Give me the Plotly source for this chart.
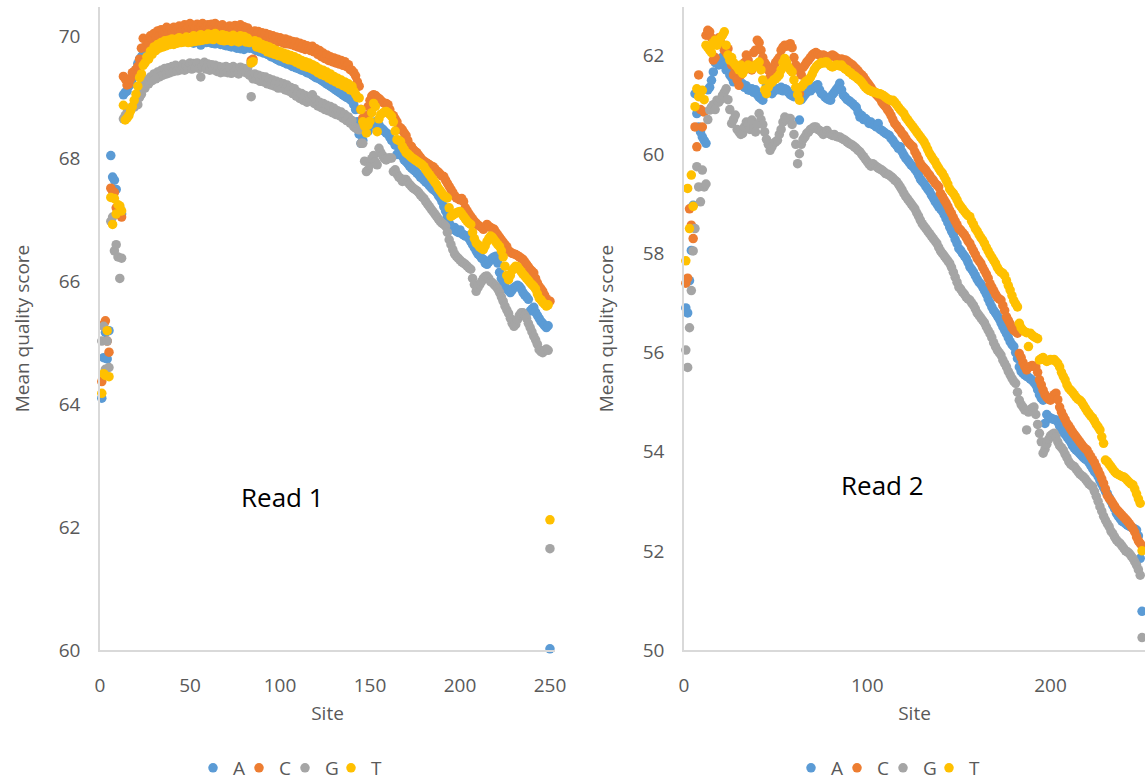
import plotly.graph_objects as go

sites = list(range(1, 251))
bases = ["A", "C", "G", "T"]
colors = {"A": "#5B9BD5", "C": "#ED7D31", "G": "#A5A5A5", "T": "#FFC000"}

# ---------------- Read 1 ----------------
read1_A = [
    64.10, 64.76, 65.17, 64.74, 65.20, 68.05, 67.70, 67.65, 67.50, 67.15,
    67.20, 67.10, 69.04, 69.08, 69.10, 69.18, 69.22, 69.30, 69.38, 69.45,
    69.55, 69.62, 69.66, 69.70, 69.72, 69.75, 69.78, 69.80, 69.80, 69.82,
    69.84, 69.85, 69.86, 69.86, 69.88, 69.87, 69.90, 69.88, 69.90, 69.91,
    69.90, 69.92, 69.91, 69.93, 69.92, 69.90, 69.93, 69.92, 69.91, 69.93,
    69.92, 69.88, 69.93, 69.91, 69.90, 69.85, 69.92, 69.90, 69.89, 69.91,
    69.90, 69.88, 69.89, 69.87, 69.90, 69.88, 69.86, 69.87, 69.85, 69.84,
    69.85, 69.83, 69.82, 69.84, 69.82, 69.80, 69.81, 69.79, 69.80, 69.78,
    69.81, 69.82, 69.80, 69.56, 69.79, 69.78, 69.76, 69.77, 69.74, 69.75,
    69.72, 69.73, 69.70, 69.69, 69.66, 69.67, 69.64, 69.62, 69.61, 69.59,
    69.59, 69.57, 69.56, 69.54, 69.55, 69.52, 69.50, 69.51, 69.48, 69.47,
    69.46, 69.44, 69.45, 69.42, 69.40, 69.41, 69.38, 69.36, 69.34, 69.32,
    69.32, 69.30, 69.28, 69.26, 69.24, 69.22, 69.20, 69.18, 69.16, 69.14,
    69.12, 69.10, 69.08, 69.06, 69.04, 69.02, 69.00, 68.99, 68.96, 68.94,
    68.88, 68.80, 68.60, 68.40, 68.25, 68.30, 68.53, 68.50, 68.45, 68.60,
    68.58, 68.55, 68.60, 68.52, 68.55, 68.50, 68.48, 68.45, 68.42, 68.40,
    68.35, 68.30, 68.28, 68.22, 68.07, 68.10, 68.06, 68.04, 67.98, 67.95,
    67.92, 67.88, 67.85, 67.82, 67.80, 67.77, 67.74, 67.70, 67.68, 67.65,
    67.62, 67.60, 67.56, 67.53, 67.50, 67.48, 67.45, 67.40, 67.36, 67.30,
    67.22, 67.15, 67.06, 66.95, 66.90, 66.85, 66.88, 66.82, 66.80, 66.84,
    66.78, 66.76, 66.74, 66.74, 66.70, 66.65, 66.60, 66.55, 66.50, 66.45,
    66.42, 66.38, 66.36, 66.30, 66.28, 66.32, 66.35, 66.38, 66.40, 66.41,
    66.30, 66.15, 66.05, 65.98, 65.92, 65.88, 65.85, 65.82, 65.86, 65.90,
    65.92, 65.94, 65.92, 65.88, 65.82, 65.78, 65.75, 65.71, 65.52, 65.55,
    65.58, 65.50, 65.45, 65.40, 65.35, 65.32, 65.28, 65.25, 65.28, 60.02,
]
read1_C = [
    64.37, 65.30, 65.36, 65.03, 64.85, 67.52, 67.47, 67.45, 67.20, 67.15,
    67.10, 67.05, 69.34, 69.30, 69.20, 69.22, 69.30, 69.40, 69.42, 69.45,
    69.50, 69.62, 69.80, 69.96, 69.82, 69.92, 69.88, 70.00, 69.94, 70.04,
    69.98, 70.08, 70.00, 70.10, 70.03, 70.07, 70.14, 70.04, 70.12, 70.06,
    70.14, 70.08, 70.12, 70.16, 70.07, 70.13, 70.18, 70.10, 70.15, 70.20,
    70.11, 70.17, 70.13, 70.19, 70.12, 70.16, 70.20, 70.10, 70.15, 70.18,
    70.12, 70.19, 70.14, 70.20, 70.10, 70.16, 70.12, 70.18, 70.08, 70.14,
    70.10, 70.16, 70.08, 70.13, 70.17, 70.07, 70.12, 70.18, 70.10, 70.15,
    70.08, 70.13, 70.04, 69.60, 69.62, 70.08, 70.02, 70.07, 69.99, 70.05,
    69.97, 70.04, 69.95, 70.02, 69.93, 70.00, 69.94, 69.98, 69.90, 69.97,
    69.92, 69.88, 69.95, 69.87, 69.93, 69.86, 69.91, 69.84, 69.90, 69.82,
    69.88, 69.80, 69.86, 69.78, 69.84, 69.80, 69.76, 69.83, 69.74, 69.79,
    69.70, 69.76, 69.66, 69.72, 69.63, 69.69, 69.60, 69.66, 69.58, 69.64,
    69.56, 69.62, 69.54, 69.60, 69.52, 69.58, 69.50, 69.53, 69.45, 69.44,
    69.40, 69.35, 69.25, 69.18, 68.80, 68.66, 68.60, 68.70, 68.85, 68.95,
    69.02, 69.04, 69.03, 69.00, 68.98, 68.95, 68.92, 68.90, 68.90, 68.88,
    68.80, 68.72, 68.70, 68.65, 68.60, 68.52, 68.50, 68.47, 68.42, 68.38,
    68.30, 68.22, 68.20, 68.15, 68.12, 68.10, 68.06, 68.02, 67.98, 67.96,
    67.94, 67.92, 67.90, 67.88, 67.87, 67.84, 67.80, 67.78, 67.75, 67.72,
    67.71, 67.65, 67.60, 67.55, 67.50, 67.45, 67.40, 67.36, 67.35, 67.33,
    67.35, 67.30, 67.20, 67.15, 67.10, 67.06, 67.02, 66.98, 66.95, 66.92,
    66.90, 66.88, 66.85, 66.88, 66.93, 66.90, 66.88, 66.86, 66.85, 66.80,
    66.76, 66.72, 66.68, 66.64, 66.60, 66.57, 66.50, 66.48, 66.46, 66.45,
    66.44, 66.42, 66.40, 66.38, 66.36, 66.32, 66.28, 66.24, 66.20, 66.17,
    66.14, 66.05, 65.98, 65.92, 65.88, 65.84, 65.78, 65.72, 65.65, 65.68,
]
read1_G = [
    65.03, 65.27, 64.57, 65.03, 64.60, 66.98, 67.05, 66.50, 66.60, 66.40,
    66.05, 66.38, 68.65, 68.70, 68.75, 68.72, 68.80, 68.85, 68.84, 68.90,
    68.88, 69.00, 69.05, 69.20, 69.15, 69.28, 69.22, 69.33, 69.27, 69.38,
    69.30, 69.41, 69.33, 69.44, 69.36, 69.47, 69.38, 69.48, 69.40, 69.50,
    69.42, 69.52, 69.43, 69.50, 69.45, 69.54, 69.44, 69.52, 69.47, 69.56,
    69.46, 69.55, 69.48, 69.56, 69.47, 69.33, 69.50, 69.57, 69.46, 69.54,
    69.44, 69.53, 69.45, 69.52, 69.42, 69.50, 69.40, 69.49, 69.41, 69.50,
    69.40, 69.48, 69.39, 69.50, 69.41, 69.47, 69.38, 69.49, 69.42, 69.47,
    69.40, 69.46, 69.36, 69.01, 69.30, 69.38, 69.29, 69.36, 69.26, 69.34,
    69.25, 69.33, 69.22, 69.30, 69.20, 69.28, 69.18, 69.26, 69.15, 69.24,
    69.15, 69.22, 69.12, 69.20, 69.10, 69.16, 69.06, 69.14, 69.02, 69.08,
    68.98, 69.06, 68.95, 69.03, 68.92, 69.00, 68.98, 69.04, 68.90, 68.96,
    68.86, 68.92, 68.83, 68.90, 68.80, 68.87, 68.78, 68.85, 68.75, 68.82,
    68.72, 68.78, 68.70, 68.76, 68.66, 68.72, 68.62, 68.68, 68.58, 68.62,
    68.52, 68.50, 68.48, 68.47, 68.25, 68.25, 67.96, 67.79, 67.82, 67.90,
    68.00, 68.05, 67.95, 67.90, 68.17, 68.10, 68.05, 68.00, 67.98, 68.01,
    68.01, 68.01, 67.79, 67.82, 67.75, 67.70, 67.68, 67.63, 67.66, 67.66,
    67.62, 67.58, 67.55, 67.52, 67.50, 67.48, 67.45, 67.41, 67.38, 67.35,
    67.30, 67.26, 67.22, 67.18, 67.14, 67.10, 67.06, 67.02, 66.98, 66.95,
    66.93, 66.90, 66.80, 66.68, 66.60, 66.52, 66.45, 66.41, 66.38, 66.35,
    66.32, 66.30, 66.28, 66.25, 66.22, 66.20, 66.05, 65.95, 65.84, 65.90,
    65.95, 66.00, 66.05, 66.08, 66.09, 66.05, 66.00, 65.98, 65.95, 65.92,
    65.88, 65.82, 65.75, 65.68, 65.60, 65.54, 65.48, 65.40, 65.32, 65.27,
    65.30, 65.38, 65.45, 65.49, 65.49, 65.45, 65.40, 65.32, 65.25, 65.18,
    65.11, 65.05, 64.98, 64.89, 64.86, 64.84, 64.88, 64.90, 64.88, 61.65,
]
read1_T = [
    64.18, 64.50, 64.47, 65.20, 64.45, 67.37, 66.93, 67.35, 67.10, 67.25,
    67.23, 67.15, 68.87, 68.63, 68.66, 68.70, 68.78, 68.85, 68.95, 69.05,
    69.18, 69.32, 69.38, 69.52, 69.56, 69.66, 69.62, 69.75, 69.70, 69.82,
    69.76, 69.86, 69.80, 69.89, 69.82, 69.92, 69.84, 69.93, 69.86, 69.95,
    69.86, 69.94, 69.88, 69.97, 69.89, 69.95, 69.90, 69.98, 69.89, 69.96,
    69.90, 70.00, 69.91, 69.98, 69.92, 70.02, 69.93, 70.00, 69.94, 70.03,
    69.95, 70.02, 69.94, 70.04, 69.96, 70.00, 69.93, 70.02, 69.92, 70.00,
    69.93, 69.99, 69.91, 70.01, 69.92, 69.98, 69.90, 70.00, 69.93, 69.99,
    69.90, 69.96, 69.89, 69.56, 69.58, 69.92, 69.82, 69.90, 69.80, 69.86,
    69.78, 69.84, 69.74, 69.82, 69.72, 69.79, 69.70, 69.76, 69.68, 69.74,
    69.66, 69.72, 69.63, 69.70, 69.61, 69.68, 69.60, 69.66, 69.57, 69.63,
    69.54, 69.60, 69.51, 69.58, 69.49, 69.56, 69.47, 69.53, 69.44, 69.50,
    69.40, 69.46, 69.37, 69.44, 69.35, 69.41, 69.31, 69.38, 69.28, 69.34,
    69.25, 69.31, 69.22, 69.28, 69.19, 69.25, 69.16, 69.22, 69.12, 69.18,
    69.10, 69.05, 69.00, 68.99, 68.80, 68.60, 68.53, 68.42, 68.55, 68.61,
    68.75, 68.90, 68.85, 68.44, 68.65, 68.72, 68.74, 68.76, 68.77, 68.75,
    68.72, 68.69, 68.60, 68.45, 68.31, 68.30, 68.28, 68.20, 68.15, 68.10,
    68.08, 68.05, 68.02, 68.00, 67.98, 67.96, 67.94, 67.92, 67.90, 67.87,
    67.82, 67.78, 67.74, 67.70, 67.66, 67.62, 67.58, 67.52, 67.48, 67.44,
    67.40, 67.38, 67.36, 67.20, 67.06, 67.08, 67.10, 67.12, 67.13, 67.14,
    67.10, 67.06, 67.02, 66.98, 66.95, 66.93, 66.80, 66.70, 66.63, 66.60,
    66.56, 66.54, 66.52, 66.58, 66.65, 66.70, 66.74, 66.72, 66.68, 66.64,
    66.60, 66.57, 66.50, 66.40, 66.25, 66.10, 66.03, 66.10, 66.18, 66.22,
    66.25, 66.24, 66.20, 66.16, 66.12, 66.09, 66.05, 66.02, 65.98, 65.95,
    65.92, 65.88, 65.80, 65.73, 65.70, 65.66, 65.63, 65.60, 65.62, 62.12,
]

# ---------------- Read 2 ----------------
read2_A = [
    56.90, 56.80, 57.45, 58.06, 58.97, 61.22, 60.82, 60.55, 60.45, 60.35,
    60.28, 60.22, 61.30, 61.35, 61.49, 61.66, 61.85, 61.90, 61.80, 61.88,
    61.96, 61.80, 61.70, 61.75, 61.60, 61.55, 61.46, 61.50, 61.55, 61.45,
    61.40, 61.42, 61.35, 61.38, 61.30, 61.29, 61.32, 61.25, 61.30, 61.20,
    61.15, 61.12, 61.09, 61.20, 61.39, 61.30, 61.25, 61.22, 61.28, 61.30,
    61.32, 61.30, 61.35, 61.28, 61.32, 61.30, 61.25, 61.20, 61.18, 61.16,
    61.20, 61.15, 60.69, 61.10, 61.15, 61.20, 61.25, 61.30, 61.28, 61.32,
    61.35, 61.38, 61.40, 61.30, 61.22, 61.20, 61.15, 61.12, 61.10, 61.09,
    61.20, 61.25, 61.30, 61.35, 61.43, 61.30, 61.19, 61.15, 61.10, 61.08,
    61.05, 61.02, 60.98, 60.95, 60.85, 60.75, 60.78, 60.70, 60.72, 60.68,
    60.62, 60.65, 60.60, 60.58, 60.55, 60.62, 60.50, 60.48, 60.45, 60.42,
    60.40, 60.38, 60.32, 60.28, 60.22, 60.18, 60.12, 60.15, 60.05, 59.98,
    59.92, 59.88, 59.83, 59.78, 59.75, 59.70, 59.65, 59.58, 59.50, 59.45,
    59.41, 59.35, 59.30, 59.25, 59.18, 59.12, 59.05, 59.00, 58.94, 58.90,
    58.85, 58.78, 58.70, 58.62, 58.53, 58.45, 58.38, 58.28, 58.20, 58.10,
    58.06, 58.00, 57.95, 57.90, 57.82, 57.73, 57.68, 57.62, 57.55, 57.48,
    57.42, 57.38, 57.32, 57.25, 57.18, 57.08, 57.00, 56.92, 56.85, 56.80,
    56.74, 56.68, 56.60, 56.52, 56.45, 56.38, 56.30, 56.22, 56.16, 56.12,
    56.00, 55.88, 55.71, 55.62, 55.58, 55.55, 55.52, 55.50, 55.47, 55.44,
    55.40, 55.35, 55.25, 55.15, 55.08, 55.04, 54.57, 54.75, 54.70, 54.68,
    54.66, 54.65, 54.64, 54.60, 54.52, 54.45, 54.40, 54.35, 54.30, 54.25,
    54.20, 54.12, 54.07, 54.03, 54.00, 53.96, 53.92, 53.88, 53.85, 53.83,
    53.78, 53.72, 53.66, 53.60, 53.56, 53.50, 53.42, 53.35, 53.28, 53.20,
    53.16, 53.08, 53.00, 52.92, 52.85, 52.76, 52.70, 52.65, 52.60, 52.58,
    52.55, 52.52, 52.50, 52.48, 52.46, 52.44, 52.42, 52.30, 51.85, 50.78,
]
read2_C = [
    57.40, 57.50, 58.90, 58.57, 58.30, 60.55, 60.15, 61.60, 60.90, 60.55,
    60.85, 62.40, 62.50, 62.47, 62.35, 61.90, 61.95, 62.30, 62.35, 62.25,
    62.20, 62.10, 62.05, 62.13, 61.95, 61.80, 61.60, 61.69, 61.50, 61.39,
    61.60, 61.75, 61.85, 62.00, 61.90, 61.80, 61.70, 62.05, 62.10, 62.30,
    62.25, 62.10, 61.95, 61.85, 61.80, 61.70, 61.56, 61.65, 61.75, 61.85,
    61.90, 61.95, 62.10, 62.16, 62.20, 62.18, 62.20, 62.23, 62.15, 61.95,
    61.80, 61.70, 61.22, 61.60, 61.75, 61.80, 61.86, 61.90, 61.95, 62.00,
    62.03, 62.05, 62.02, 62.00, 61.97, 62.00, 61.98, 61.95, 61.96, 61.98,
    62.00, 61.98, 61.95, 61.92, 61.90, 61.92, 61.90, 61.90, 61.88, 61.85,
    61.82, 61.80, 61.76, 61.72, 61.68, 61.63, 61.60, 61.56, 61.50, 61.45,
    61.40, 61.35, 61.29, 61.25, 61.20, 61.16, 61.12, 61.05, 61.00, 60.96,
    60.90, 60.85, 60.78, 60.70, 60.62, 60.58, 60.52, 60.48, 60.42, 60.38,
    60.32, 60.26, 60.22, 60.18, 60.15, 60.05, 59.98, 59.90, 59.81, 59.76,
    59.72, 59.68, 59.62, 59.58, 59.52, 59.48, 59.42, 59.38, 59.34, 59.21,
    59.15, 59.08, 59.02, 58.95, 58.87, 58.80, 58.72, 58.65, 58.58, 58.50,
    58.47, 58.42, 58.38, 58.32, 58.25, 58.20, 58.12, 58.05, 57.98, 57.90,
    57.85, 57.80, 57.72, 57.65, 57.58, 57.50, 57.39, 57.32, 57.25, 57.18,
    57.12, 57.08, 57.06, 56.95, 56.85, 56.72, 56.65, 56.58, 56.50, 56.45,
    56.42, 56.39, 55.98, 55.90, 55.80, 55.72, 55.65, 55.70, 55.72, 55.74,
    55.72, 55.71, 55.60, 55.45, 55.35, 55.24, 55.15, 55.10, 55.06, 55.04,
    55.10, 55.15, 55.18, 55.05, 54.90, 54.80, 54.72, 54.65, 54.57, 54.52,
    54.46, 54.40, 54.35, 54.30, 54.25, 54.20, 54.15, 54.10, 54.06, 54.03,
    53.96, 53.90, 53.84, 53.78, 53.70, 53.62, 53.54, 53.45, 53.36, 53.25,
    53.12, 53.06, 53.02, 52.96, 52.90, 52.84, 52.80, 52.76, 52.72, 52.68,
    52.64, 52.60, 52.55, 52.50, 52.45, 52.38, 52.28, 52.20, 52.15, 52.10,
]
read2_G = [
    56.05, 55.70, 56.50, 57.25, 58.05, 58.50, 59.75, 59.34, 59.04, 59.68,
    59.34, 59.40, 60.70, 60.89, 60.95, 61.00, 60.90, 61.09, 61.05, 61.10,
    61.19, 61.25, 61.32, 61.10, 60.90, 60.62, 60.70, 60.79, 60.50, 60.45,
    60.40, 60.42, 60.55, 60.65, 60.60, 60.50, 60.69, 60.55, 60.45, 60.60,
    60.82, 60.70, 60.60, 60.45, 60.30, 60.20, 60.08, 60.15, 60.22, 60.25,
    60.28, 60.40, 60.50, 60.65, 60.75, 60.70, 60.72, 60.72, 60.60, 60.40,
    60.20, 59.81, 60.01, 60.20, 60.30, 60.35, 60.42, 60.45, 60.50, 60.52,
    60.55, 60.55, 60.50, 60.48, 60.45, 60.40, 60.45, 60.48, 60.42, 60.40,
    60.38, 60.40, 60.36, 60.35, 60.35, 60.32, 60.30, 60.28, 60.25, 60.22,
    60.20, 60.18, 60.15, 60.12, 60.08, 60.05, 60.00, 59.95, 59.90, 59.85,
    59.80, 59.76, 59.81, 59.78, 59.75, 59.72, 59.70, 59.68, 59.65, 59.61,
    59.60, 59.58, 59.55, 59.52, 59.48, 59.45, 59.40, 59.34, 59.28, 59.21,
    59.15, 59.10, 59.05, 59.00, 58.95, 58.90, 58.82, 58.75, 58.67, 58.60,
    58.55, 58.50, 58.45, 58.40, 58.35, 58.30, 58.25, 58.20, 58.12, 58.05,
    58.00, 57.95, 57.90, 57.85, 57.80, 57.72, 57.62, 57.52, 57.42, 57.32,
    57.28, 57.22, 57.18, 57.12, 57.08, 57.06, 57.00, 56.95, 56.88, 56.80,
    56.75, 56.70, 56.65, 56.60, 56.52, 56.45, 56.38, 56.30, 56.20, 56.12,
    56.05, 56.00, 55.95, 55.85, 55.78, 55.71, 55.62, 55.55, 55.48, 55.42,
    55.38, 55.20, 55.04, 54.95, 54.90, 54.84, 54.44, 54.80, 54.85, 54.88,
    54.90, 54.75, 54.55, 54.37, 54.20, 53.97, 54.05, 54.15, 54.25, 54.32,
    54.35, 54.37, 54.30, 54.20, 54.12, 54.08, 54.03, 53.95, 53.88, 53.80,
    53.75, 53.72, 53.70, 53.65, 53.60, 53.55, 53.52, 53.49, 53.45, 53.40,
    53.35, 53.32, 53.29, 53.20, 53.10, 53.00, 52.89, 52.80, 52.70, 52.62,
    52.55, 52.49, 52.40, 52.35, 52.28, 52.22, 52.18, 52.15, 52.10, 52.05,
    52.00, 51.98, 51.95, 51.90, 51.85, 51.78, 51.71, 51.62, 51.51, 50.25,
]
read2_T = [
    57.85, 59.31, 58.50, 59.58, 58.95, 60.96, 61.32, 61.16, 61.25, 61.29,
    61.10, 62.20, 62.15, 62.10, 62.05, 62.25, 62.30, 62.20, 62.26, 62.35,
    62.40, 62.47, 62.20, 62.00, 61.90, 61.95, 61.85, 61.80, 61.76, 61.70,
    61.80, 61.63, 61.70, 61.75, 61.80, 61.78, 61.72, 61.76, 61.80, 61.82,
    61.86, 61.70, 61.50, 61.30, 61.22, 61.35, 61.43, 61.45, 61.50, 61.52,
    61.56, 61.60, 61.70, 61.85, 61.93, 61.85, 61.75, 61.70, 61.66, 61.50,
    61.35, 61.20, 61.09, 61.36, 61.40, 61.45, 61.48, 61.49, 61.55, 61.62,
    61.70, 61.76, 61.80, 61.82, 61.85, 61.84, 61.86, 61.86, 61.82, 61.78,
    61.76, 61.78, 61.80, 61.80, 61.78, 61.80, 61.75, 61.72, 61.70, 61.66,
    61.64, 61.60, 61.58, 61.55, 61.52, 61.49, 61.45, 61.40, 61.35, 61.32,
    61.29, 61.28, 61.26, 61.25, 61.24, 61.22, 61.22, 61.20, 61.18, 61.15,
    61.12, 61.10, 61.08, 61.09, 61.05, 61.00, 60.95, 60.90, 60.86, 60.82,
    60.75, 60.70, 60.65, 60.60, 60.55, 60.50, 60.45, 60.40, 60.35, 60.30,
    60.25, 60.18, 60.10, 60.02, 59.96, 59.90, 59.85, 59.78, 59.72, 59.66,
    59.62, 59.55, 59.48, 59.40, 59.30, 59.25, 59.21, 59.15, 59.08, 59.00,
    58.95, 58.90, 58.85, 58.80, 58.76, 58.74, 58.65, 58.58, 58.50, 58.45,
    58.38, 58.32, 58.27, 58.20, 58.12, 58.05, 57.98, 57.92, 57.86, 57.80,
    57.72, 57.66, 57.62, 57.60, 57.55, 57.45, 57.35, 57.26, 57.15, 57.05,
    56.98, 56.92, 56.59, 56.50, 56.45, 56.42, 56.40, 56.12, 56.39, 56.35,
    56.32, 56.30, 56.28, 55.85, 55.88, 55.90, 55.85, 55.82, 55.84, 55.86,
    55.85, 55.86, 55.82, 55.78, 55.71, 55.60, 55.52, 55.45, 55.35, 55.28,
    55.24, 55.20, 55.15, 55.10, 55.06, 55.04, 55.00, 54.94, 54.88, 54.82,
    54.77, 54.72, 54.68, 54.62, 54.55, 54.50, 54.44, 54.30, 54.17, 53.83,
    53.80, 53.75, 53.70, 53.65, 53.60, 53.56, 53.54, 53.52, 53.50, 53.49,
    53.46, 53.42, 53.38, 53.35, 53.33, 53.25, 53.15, 53.05, 52.96, 52.00,
]

read1 = {"A": read1_A, "C": read1_C, "G": read1_G, "T": read1_T}
read2 = {"A": read2_A, "C": read2_C, "G": read2_G, "T": read2_T}
for d in (read1, read2):
    for b in bases:
        assert len(d[b]) == len(sites), (b, len(d[b]))

W, H = 1145, 780
TXT = "#595959"
FONT = "Open Sans"

fig = go.Figure()
for i, b in enumerate(bases):
    fig.add_trace(go.Scatter(
        x=sites, y=read1[b], mode="markers", name=b,
        marker=dict(color=colors[b], size=9.5, line=dict(width=0)),
        xaxis="x", yaxis="y", legend="legend", cliponaxis=False,
        legendwidth=(1 if i < 3 else 22),
    ))
for i, b in enumerate(bases):
    fig.add_trace(go.Scatter(
        x=sites, y=read2[b], mode="markers", name=b,
        marker=dict(color=colors[b], size=9.5, line=dict(width=0)),
        xaxis="x2", yaxis="y2", legend="legend2", cliponaxis=False,
        legendwidth=(1 if i < 3 else 22),
    ))

def px_x(p):
    return p / W

def px_y(p):
    return (H - p) / H

axis_common = dict(
    showgrid=False, zeroline=False, showline=True, linecolor="#D9D9D9",
    linewidth=1.5, ticks="", tickfont=dict(family=FONT, size=19, color=TXT),
    fixedrange=True,
)
title_font = dict(family=FONT, size=19, color=TXT)

legend_common = dict(
    orientation="h", yanchor="middle", xanchor="left",
    font=dict(family=FONT, size=19, color=TXT),
    entrywidth=1, entrywidthmode="pixels", itemwidth=30,
    bgcolor="rgba(0,0,0,0)", tracegroupgap=0,
)

fig.update_layout(
    width=W, height=H,
    margin=dict(l=0, r=0, t=0, b=0, autoexpand=False),
    paper_bgcolor="white", plot_bgcolor="white",
    font=dict(family=FONT, color=TXT),
    hovermode=False,
    xaxis=dict(domain=[px_x(100), px_x(555)], range=[0, 252.8],
               tickmode="array", tickvals=[0, 50, 100, 150, 200, 250],
               ticklabelstandoff=17, anchor="y",
               title=dict(text="Site", font=title_font, standoff=10),
               **axis_common),
    yaxis=dict(domain=[px_y(650), px_y(7)], range=[60, 70.47],
               tickmode="array", tickvals=[60, 62, 64, 66, 68, 70],
               ticklabelstandoff=14, anchor="x",
               title=dict(text="Mean quality score", font=title_font, standoff=24),
               **axis_common),
    xaxis2=dict(domain=[px_x(684), 1.0], range=[0, 251.6],
                tickmode="array", tickvals=[0, 100, 200],
                ticklabelstandoff=17, anchor="y2",
                title=dict(text="Site", font=title_font, standoff=10),
                **axis_common),
    yaxis2=dict(domain=[px_y(650), px_y(7)], range=[50, 62.97],
                tickmode="array", tickvals=[50, 52, 54, 56, 58, 60, 62],
                ticklabelstandoff=14, anchor="x2",
                title=dict(text="Mean quality score", font=title_font, standoff=24),
                **axis_common),
    legend=dict(x=px_x(193), y=px_y(768), **legend_common),
    legend2=dict(x=px_x(791), y=px_y(768), **legend_common),
    annotations=[
        dict(text="Read 1", x=px_x(282), y=px_y(497), xref="paper", yref="paper",
             xanchor="center", yanchor="middle",
             showarrow=False, font=dict(family=FONT, size=26, color="#000000")),
        dict(text="Read 2", x=px_x(882), y=px_y(485), xref="paper", yref="paper",
             xanchor="center", yanchor="middle",
             showarrow=False, font=dict(family=FONT, size=26, color="#000000")),
    ],
)

fig.write_html("out.html", config={"displayModeBar": False})
